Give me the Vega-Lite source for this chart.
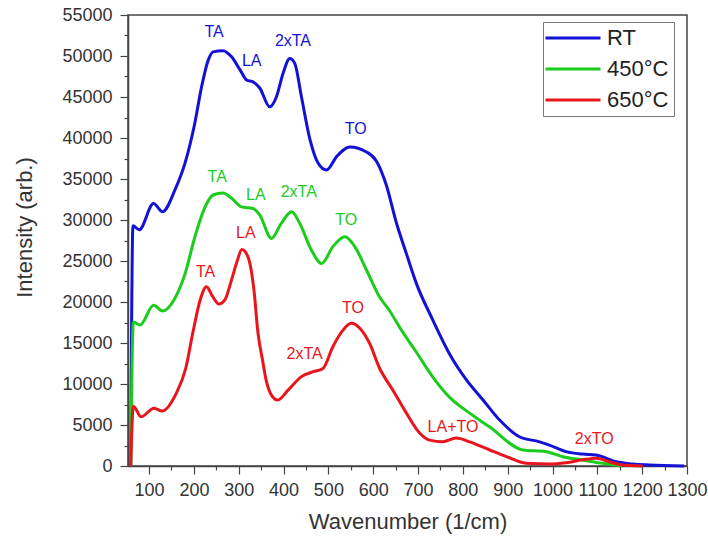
{
  "$schema": "https://vega.github.io/schema/vega-lite/v6.json",
  "width": 559,
  "height": 451,
  "autosize": "none",
  "padding": {"left": 128, "top": 15, "right": 21, "bottom": 73},
  "background": "white",
  "config": {
    "font": "Liberation Sans",
    "view": {"stroke": "#444", "strokeWidth": 1.5},
    "axis": {
      "grid": false,
      "domainColor": "#444",
      "domainWidth": 1.5,
      "tickColor": "#444",
      "tickWidth": 1.2,
      "labelColor": "#333",
      "titleColor": "#333",
      "labelFont": "Liberation Sans",
      "titleFont": "Liberation Sans",
      "titleFontWeight": "normal",
      "labelFontSize": 18,
      "titleFontSize": 22
    }
  },
  "datasets": {
    "spectra": [
      {"series": "RT", "w": 59, "v": 0}, {"series": "RT", "w": 64, "v": 29300}, {"series": "RT", "w": 78, "v": 28800},
      {"series": "RT", "w": 110, "v": 32000}, {"series": "RT", "w": 130, "v": 31000}, {"series": "RT", "w": 158, "v": 33700},
      {"series": "RT", "w": 180, "v": 36900}, {"series": "RT", "w": 202, "v": 41800}, {"series": "RT", "w": 217, "v": 46200},
      {"series": "RT", "w": 232, "v": 49500}, {"series": "RT", "w": 243, "v": 50500}, {"series": "RT", "w": 265, "v": 50650},
      {"series": "RT", "w": 284, "v": 49900}, {"series": "RT", "w": 303, "v": 48300}, {"series": "RT", "w": 318, "v": 47050},
      {"series": "RT", "w": 332, "v": 46850}, {"series": "RT", "w": 347, "v": 46100}, {"series": "RT", "w": 369, "v": 43800},
      {"series": "RT", "w": 384, "v": 45000}, {"series": "RT", "w": 399, "v": 47900}, {"series": "RT", "w": 414, "v": 49700},
      {"series": "RT", "w": 425, "v": 49100}, {"series": "RT", "w": 440, "v": 45000}, {"series": "RT", "w": 459, "v": 39800},
      {"series": "RT", "w": 477, "v": 36950}, {"series": "RT", "w": 496, "v": 36100}, {"series": "RT", "w": 518, "v": 37700},
      {"series": "RT", "w": 548, "v": 38900}, {"series": "RT", "w": 585, "v": 38300}, {"series": "RT", "w": 607, "v": 37200},
      {"series": "RT", "w": 629, "v": 34300}, {"series": "RT", "w": 652, "v": 29600}, {"series": "RT", "w": 674, "v": 25900},
      {"series": "RT", "w": 696, "v": 22300}, {"series": "RT", "w": 733, "v": 17800}, {"series": "RT", "w": 770, "v": 13700},
      {"series": "RT", "w": 808, "v": 10500}, {"series": "RT", "w": 845, "v": 8050}, {"series": "RT", "w": 882, "v": 5600},
      {"series": "RT", "w": 926, "v": 3570}, {"series": "RT", "w": 971, "v": 2950}, {"series": "RT", "w": 993, "v": 2550},
      {"series": "RT", "w": 1030, "v": 1750}, {"series": "RT", "w": 1067, "v": 1450}, {"series": "RT", "w": 1097, "v": 1350},
      {"series": "RT", "w": 1142, "v": 520}, {"series": "RT", "w": 1179, "v": 240}, {"series": "RT", "w": 1216, "v": 120},
      {"series": "RT", "w": 1294, "v": 0},

      {"series": "450°C", "w": 59, "v": 0}, {"series": "450°C", "w": 65, "v": 17550}, {"series": "450°C", "w": 80, "v": 17200},
      {"series": "450°C", "w": 110, "v": 19600}, {"series": "450°C", "w": 130, "v": 18900}, {"series": "450°C", "w": 158, "v": 20500},
      {"series": "450°C", "w": 180, "v": 23400}, {"series": "450°C", "w": 202, "v": 27900}, {"series": "450°C", "w": 225, "v": 31600},
      {"series": "450°C", "w": 243, "v": 33050}, {"series": "450°C", "w": 265, "v": 33300}, {"series": "450°C", "w": 284, "v": 32650},
      {"series": "450°C", "w": 306, "v": 31600}, {"series": "450°C", "w": 332, "v": 31400}, {"series": "450°C", "w": 347, "v": 30600},
      {"series": "450°C", "w": 373, "v": 27750}, {"series": "450°C", "w": 395, "v": 29600}, {"series": "450°C", "w": 418, "v": 31000},
      {"series": "450°C", "w": 436, "v": 29600}, {"series": "450°C", "w": 462, "v": 26350}, {"series": "450°C", "w": 485, "v": 24700},
      {"series": "450°C", "w": 510, "v": 26750}, {"series": "450°C", "w": 537, "v": 27950}, {"series": "450°C", "w": 559, "v": 26750},
      {"series": "450°C", "w": 585, "v": 23900}, {"series": "450°C", "w": 614, "v": 20650}, {"series": "450°C", "w": 637, "v": 18900},
      {"series": "450°C", "w": 659, "v": 16900}, {"series": "450°C", "w": 696, "v": 13900}, {"series": "450°C", "w": 733, "v": 10850},
      {"series": "450°C", "w": 770, "v": 8400}, {"series": "450°C", "w": 815, "v": 6450}, {"series": "450°C", "w": 860, "v": 4750},
      {"series": "450°C", "w": 934, "v": 1950}, {"series": "450°C", "w": 986, "v": 1750}, {"series": "450°C", "w": 1023, "v": 1130},
      {"series": "450°C", "w": 1067, "v": 730}, {"series": "450°C", "w": 1112, "v": 330}, {"series": "450°C", "w": 1156, "v": 0},

      {"series": "650°C", "w": 59, "v": 0}, {"series": "650°C", "w": 65, "v": 7300}, {"series": "650°C", "w": 82, "v": 6000},
      {"series": "650°C", "w": 111, "v": 7050}, {"series": "650°C", "w": 129, "v": 6700}, {"series": "650°C", "w": 160, "v": 8800},
      {"series": "650°C", "w": 182, "v": 11950}, {"series": "650°C", "w": 198, "v": 16350}, {"series": "650°C", "w": 214, "v": 20250},
      {"series": "650°C", "w": 228, "v": 21850}, {"series": "650°C", "w": 242, "v": 20650}, {"series": "650°C", "w": 256, "v": 19750},
      {"series": "650°C", "w": 269, "v": 20250}, {"series": "650°C", "w": 284, "v": 22700}, {"series": "650°C", "w": 296, "v": 24900},
      {"series": "650°C", "w": 307, "v": 26400}, {"series": "650°C", "w": 320, "v": 25600}, {"series": "650°C", "w": 334, "v": 21450},
      {"series": "650°C", "w": 343, "v": 16200}, {"series": "650°C", "w": 353, "v": 12950}, {"series": "650°C", "w": 361, "v": 10500},
      {"series": "650°C", "w": 373, "v": 8650}, {"series": "650°C", "w": 387, "v": 8050}, {"series": "650°C", "w": 410, "v": 9250},
      {"series": "650°C", "w": 440, "v": 10900}, {"series": "650°C", "w": 466, "v": 11500}, {"series": "650°C", "w": 488, "v": 11900},
      {"series": "650°C", "w": 510, "v": 14550}, {"series": "650°C", "w": 533, "v": 16600}, {"series": "650°C", "w": 551, "v": 17400},
      {"series": "650°C", "w": 570, "v": 16800}, {"series": "650°C", "w": 592, "v": 14950}, {"series": "650°C", "w": 614, "v": 11950},
      {"series": "650°C", "w": 644, "v": 9250}, {"series": "650°C", "w": 674, "v": 6450}, {"series": "650°C", "w": 704, "v": 4000},
      {"series": "650°C", "w": 726, "v": 3150}, {"series": "650°C", "w": 755, "v": 2950}, {"series": "650°C", "w": 785, "v": 3400},
      {"series": "650°C", "w": 815, "v": 2950}, {"series": "650°C", "w": 860, "v": 1950}, {"series": "650°C", "w": 897, "v": 1150},
      {"series": "650°C", "w": 941, "v": 330}, {"series": "650°C", "w": 993, "v": 240}, {"series": "650°C", "w": 1030, "v": 400},
      {"series": "650°C", "w": 1067, "v": 750}, {"series": "650°C", "w": 1097, "v": 950}, {"series": "650°C", "w": 1127, "v": 520},
      {"series": "650°C", "w": 1156, "v": 120}, {"series": "650°C", "w": 1201, "v": 0}
    ],
    "peaks": [
      {"series": "RT", "w": 245, "v": 52900, "label": "TA"},
      {"series": "RT", "w": 329, "v": 49400, "label": "LA"},
      {"series": "RT", "w": 421, "v": 51800, "label": "2xTA"},
      {"series": "RT", "w": 561, "v": 41100, "label": "TO"},
      {"series": "450°C", "w": 252, "v": 35300, "label": "TA"},
      {"series": "450°C", "w": 338, "v": 33050, "label": "LA"},
      {"series": "450°C", "w": 434, "v": 33400, "label": "2xTA"},
      {"series": "450°C", "w": 540, "v": 30000, "label": "TO"},
      {"series": "650°C", "w": 226, "v": 23700, "label": "TA"},
      {"series": "650°C", "w": 316, "v": 28400, "label": "LA"},
      {"series": "650°C", "w": 447, "v": 13600, "label": "2xTA"},
      {"series": "650°C", "w": 555, "v": 19250, "label": "TO"},
      {"series": "650°C", "w": 778, "v": 4800, "label": "LA+TO"},
      {"series": "650°C", "w": 1093, "v": 3250, "label": "2xTO"}
    ]
  },
  "layer": [
    {
      "data": {"name": "spectra"},
      "mark": {"type": "line", "strokeWidth": 3, "interpolate": "monotone"},
      "encoding": {
        "x": {
          "field": "w", "type": "quantitative",
          "scale": {"domain": [53, 1300], "nice": false, "zero": false},
          "axis": {
            "title": "Wavenumber (1/cm)",
            "values": [100, 200, 300, 400, 500, 600, 700, 800, 900, 1000, 1100, 1200, 1300],
            "format": "d", "tickSize": 8, "labelPadding": 7, "titlePadding": 12,
            "labelFlush": false, "labelOverlap": false
          }
        },
        "y": {
          "field": "v", "type": "quantitative",
          "scale": {"domain": [0, 55000], "nice": false},
          "axis": {
            "title": "Intensity (arb.)",
            "values": [0, 5000, 10000, 15000, 20000, 25000, 30000, 35000, 40000, 45000, 50000, 55000],
            "format": "d", "tickSize": 8, "labelPadding": 8, "titlePadding": 25, "titleY": 212,
            "labelFlush": false, "labelOverlap": false
          }
        },
        "color": {
          "field": "series", "type": "nominal",
          "scale": {"domain": ["RT", "450°C", "650°C"], "range": ["#1212d6", "#1ccc1c", "#e8161c"]},
          "legend": {
            "title": null, "orient": "none", "legendX": 415, "legendY": 7,
            "symbolType": "M-1,0H9", "symbolSize": 121, "symbolStrokeWidth": 3, "symbolOffset": -8,
            "labelFont": "Liberation Sans", "labelFontSize": 22, "labelColor": "#222",
            "labelOffset": 45, "rowPadding": 9, "padding": 5,
            "strokeColor": "#777", "fillColor": "white"
          }
        }
      }
    },
    {
      "data": {"name": "peaks"},
      "mark": {"type": "text", "fontSize": 16, "font": "Liberation Sans", "baseline": "middle", "align": "center"},
      "encoding": {
        "x": {
          "field": "w", "type": "quantitative",
          "axis": {
            "orient": "bottom", "title": null, "labels": false, "domain": false, "tickSize": 4,
            "values": [150, 250, 350, 450, 550, 650, 750, 850, 950, 1050, 1150, 1250]
          }
        },
        "y": {
          "field": "v", "type": "quantitative",
          "axis": {
            "orient": "left", "title": null, "labels": false, "domain": false, "tickSize": 4,
            "values": [2500, 7500, 12500, 17500, 22500, 27500, 32500, 37500, 42500, 47500, 52500]
          }
        },
        "text": {"field": "label"},
        "color": {"field": "series", "type": "nominal", "legend": null}
      }
    }
  ],
  "resolve": {"axis": {"x": "independent", "y": "independent"}}
}
